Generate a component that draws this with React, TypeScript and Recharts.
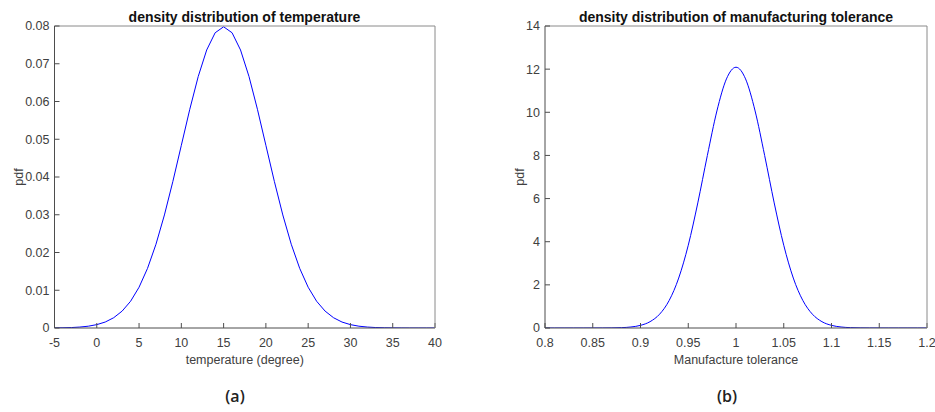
import React from 'react';
import { LineChart, Line, XAxis, YAxis } from 'recharts';

// (a) temperature pdf, sampled every degree
const tempX = [-5, -4, -3, -2, -1, 0, 1, 2, 3, 4, 5, 6, 7, 8, 9, 10, 11, 12, 13, 14, 15, 16, 17, 18, 19, 20, 21, 22, 23, 24, 25, 26, 27, 28, 29, 30, 31, 32, 33, 34, 35, 36, 37, 38, 39, 40];
const tempPdf = [
  0.000027, 0.00006, 0.00012, 0.00025, 0.00048, 0.00089, 0.00158, 0.00272, 0.00448, 0.00709,
  0.0108, 0.01579, 0.02218, 0.02995, 0.03884, 0.04839, 0.05794, 0.06664, 0.07365, 0.07821,
  0.07979,
  0.07821, 0.07365, 0.06664, 0.05794, 0.04839, 0.03884, 0.02995, 0.02218, 0.01579, 0.0108,
  0.00709, 0.00448, 0.00272, 0.00158, 0.00089, 0.00048, 0.00025, 0.00012, 0.00006, 0.000027,
  0.00001, 0, 0, 0, 0,
];
const tempXTicks = [-5, 0, 5, 10, 15, 20, 25, 30, 35, 40];
const tempYTicks = [0, 0.01, 0.02, 0.03, 0.04, 0.05, 0.06, 0.07, 0.08];

// (b) manufacturing tolerance pdf, every 0.01
const tolX = [
  0.8, 0.81, 0.82, 0.83, 0.84, 0.85, 0.86, 0.87, 0.88, 0.89, 0.9, 0.91, 0.92, 0.93, 0.94, 0.95, 0.96, 0.97, 0.98, 0.99,
  1, 1.01, 1.02, 1.03, 1.04, 1.05, 1.06, 1.07, 1.08, 1.09, 1.1, 1.11, 1.12, 1.13, 1.14, 1.15, 1.16, 1.17, 1.18, 1.19, 1.2,
];
const tolPdf = [
  0, 0, 0, 0, 0, 0.0004, 0.0015, 0.0052, 0.0163, 0.0467, 0.1225, 0.2933, 0.6402, 1.2746, 2.315, 3.836, 5.799, 7.997, 10.061, 11.547,
  12.089,
  11.547, 10.061, 7.997, 5.799, 3.836, 2.315, 1.2746, 0.6402, 0.2933, 0.1225, 0.0467, 0.0163, 0.0052, 0.0015, 0.0004, 0, 0, 0, 0, 0,
];
const tolXTicks = [0.8, 0.85, 0.9, 0.95, 1, 1.05, 1.1, 1.15, 1.2];
const tolYTicks = [0, 2, 4, 6, 8, 10, 12, 14];

const tempData = tempX.map((x, i) => ({ x, pdf: tempPdf[i] }));
const tolData = tolX.map((x, i) => ({ x, pdf: tolPdf[i] }));

const FONT = '"Liberation Sans", Arial, sans-serif';
const AXIS = '#4d4d4d';
const BOX = '#8a8a8a';
const TEXT = '#404040';
const FS = 12.5;

interface PanelProps {
  data: { x: number; pdf: number }[];
  xDomain: [number, number];
  yDomain: [number, number];
  xTicks: number[];
  yTicks: number[];
  xLabel: string;
  left: number;
  width: number;
  marginLeft: number;
  marginRight: number;
  pdfOffset: number;
  smooth: boolean;
}

function Panel(p: PanelProps) {
  const tickStyle = { fontSize: FS, fill: TEXT, fontFamily: FONT };
  return (
    <div style={{ position: 'absolute', left: p.left, top: 0 }}>
      <LineChart
        width={p.width}
        height={412}
        data={p.data}
        margin={{ top: 25, right: p.marginRight - 1, bottom: 44, left: p.marginLeft }}
      >
        <XAxis
          dataKey="x"
          type="number"
          domain={p.xDomain}
          ticks={p.xTicks}
          interval={0}
          allowDataOverflow
          height={40}
          tickSize={-5}
          tickMargin={15}
          tick={tickStyle}
          tickFormatter={(v: number) => String(v)}
          axisLine={{ stroke: AXIS }}
          tickLine={{ stroke: AXIS }}
          label={{ value: p.xLabel, position: 'insideBottom', offset: 4, fontSize: FS, fill: TEXT, fontFamily: FONT }}
        />
        <XAxis
          xAxisId="top"
          dataKey="x"
          orientation="top"
          type="number"
          domain={p.xDomain}
          ticks={p.xTicks}
          interval={0}
          allowDataOverflow
          height={1}
          tickSize={-5}
          tick={false}
          axisLine={{ stroke: BOX }}
          tickLine={{ stroke: AXIS }}
        />
        <YAxis
          type="number"
          domain={p.yDomain}
          ticks={p.yTicks}
          interval={0}
          allowDataOverflow
          width={40}
          tickSize={-5}
          tickMargin={10}
          tick={tickStyle}
          tickFormatter={(v: number) => String(v)}
          axisLine={{ stroke: AXIS }}
          tickLine={{ stroke: AXIS }}
          label={{
            value: 'pdf',
            angle: -90,
            position: 'insideLeft',
            offset: p.pdfOffset,
            fontSize: FS,
            fill: TEXT,
            fontFamily: FONT,
            style: { textAnchor: 'middle' },
          }}
        />
        <YAxis
          yAxisId="right"
          orientation="right"
          type="number"
          domain={p.yDomain}
          ticks={p.yTicks}
          interval={0}
          allowDataOverflow
          width={1}
          tickSize={-5}
          tick={false}
          axisLine={{ stroke: BOX }}
          tickLine={{ stroke: AXIS }}
        />
        <Line
          xAxisId="top"
          yAxisId="right"
          dataKey="pdf"
          stroke="none"
          dot={false}
          activeDot={false}
          isAnimationActive={false}
        />
        <Line
          dataKey="pdf"
          type={p.smooth ? 'monotone' : 'linear'}
          stroke="#0000ff"
          strokeWidth={1}
          dot={false}
          isAnimationActive={false}
        />
      </LineChart>
    </div>
  );
}

export default function App() {
  const title = {
    position: 'absolute' as const,
    top: 9,
    fontFamily: FONT,
    fontWeight: 'bold' as const,
    fontSize: 14,
    lineHeight: '17px',
    color: '#111',
    textAlign: 'center' as const,
  };
  const caption = { position: 'absolute' as const, top: 385, fontFamily: '"Open Sans", sans-serif', fontWeight: 600, fontSize: 16, color: '#222', width: 60, textAlign: 'center' as const };
  return (
    <div style={{ position: 'absolute', left: 0, top: 0, width: 935, height: 412, background: '#fff', overflow: 'hidden' }}>
      <Panel
        data={tempData}
        xDomain={[-5, 40]}
        yDomain={[0, 0.08]}
        xTicks={tempXTicks}
        yTicks={tempYTicks}
        xLabel="temperature (degree)"
        left={0}
        width={470}
        marginLeft={14.5}
        marginRight={35}
        pdfOffset={4}
        smooth={false}
      />
      <Panel
        data={tolData}
        xDomain={[0.8, 1.2]}
        yDomain={[0, 14]}
        xTicks={tolXTicks}
        yTicks={tolYTicks}
        xLabel="Manufacture tolerance"
        left={470}
        width={465}
        marginLeft={35}
        marginRight={8}
        pdfOffset={15}
        smooth={true}
      />
      <div style={{ ...title, left: 54.5, width: 380 }}>density distribution of temperature</div>
      <div style={{ ...title, left: 545, width: 382 }}>density distribution of manufacturing tolerance</div>
      <div style={{ ...caption, left: 205 }}>(a)</div>
      <div style={{ ...caption, left: 697 }}>(b)</div>
    </div>
  );
}
